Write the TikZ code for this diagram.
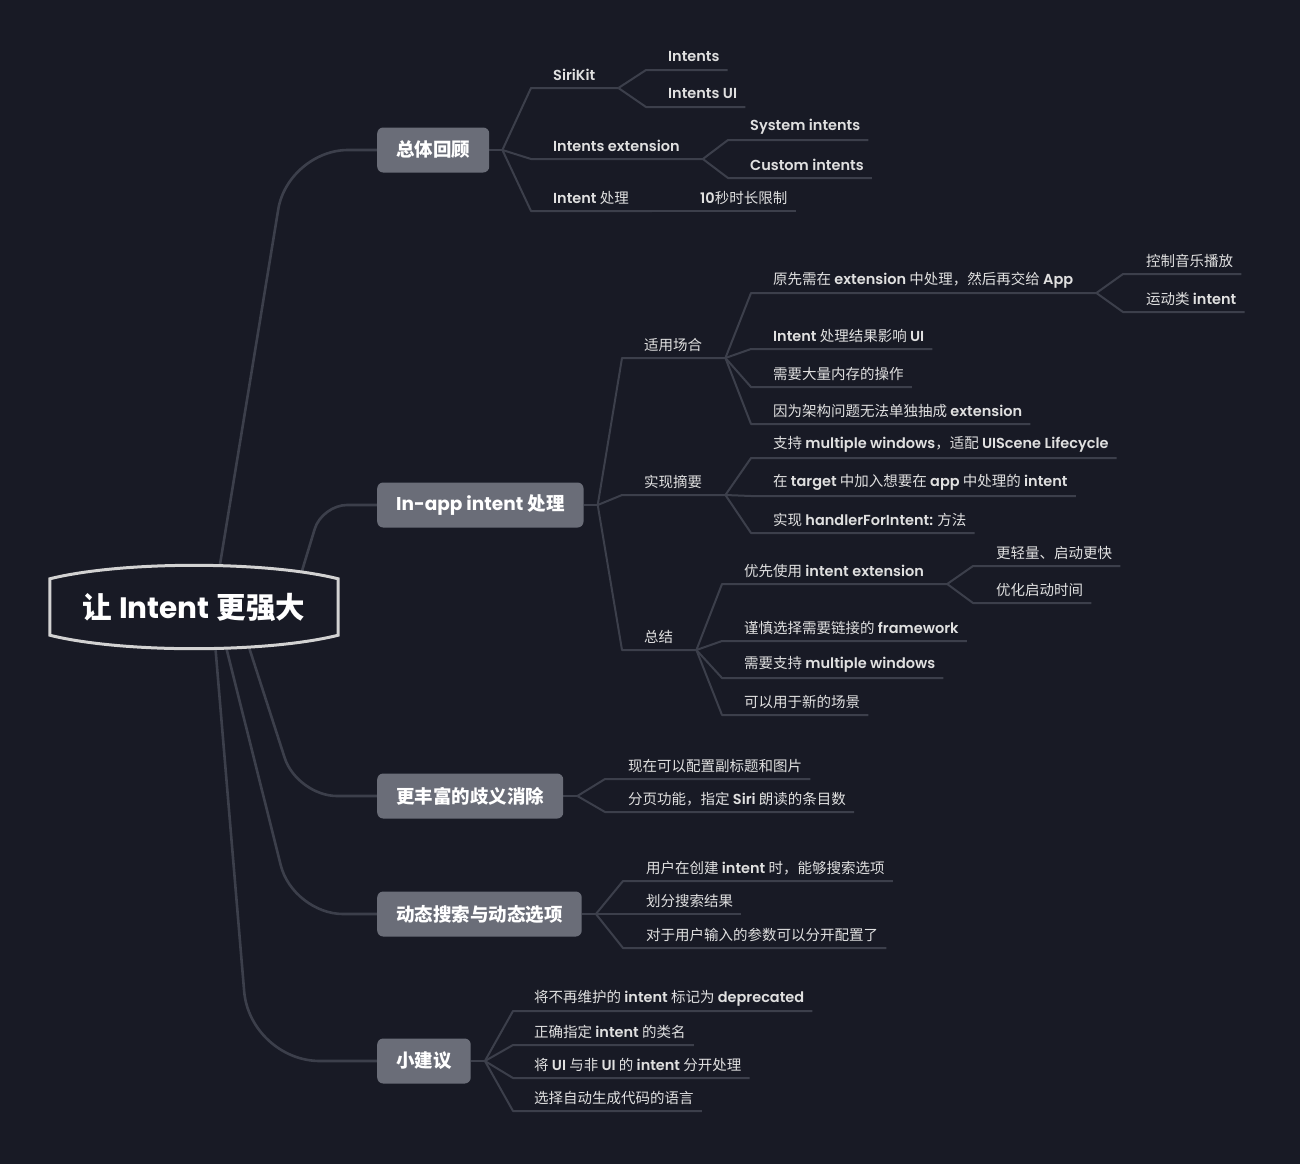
\documentclass[tikz,border=0pt]{standalone}
\usepackage{fontspec}
\setmainfont{Noto Sans CJK SC}
\newfontfamily\latfont{Poppins SemiBold}[BoldFont={Poppins Bold}]
\newcommand{\eng}[1]{{\latfont #1}}
\usepackage{tikz}
\definecolor{mapBack}{HTML}{181A25}
\definecolor{mapLine}{HTML}{3C3F4B}
\definecolor{mapBox}{HTML}{6A6D78}
\definecolor{mapText}{HTML}{E0E0E0}
\definecolor{mapRim}{HTML}{D2D2D2}
\tikzstyle{rootTopic} = [rectangle, minimum width=288pt, minimum height=56pt, text=white, font=\fontsize{29.5}{33}\selectfont\bfseries]
\tikzstyle{mainTopic} = [rectangle, rounded corners=6pt, fill=mapBox, text=white, anchor=west, minimum height=45pt, inner xsep=19pt, font=\fontsize{18.5}{22}\selectfont\bfseries]
\tikzstyle{subTopic} = [rectangle, anchor=south west, minimum height=26pt, inner xsep=8pt, inner ysep=0pt, text=mapText, font=\fontsize{14.5}{17}\selectfont]
\tikzstyle{branch} = [draw=mapLine, line width=2pt, line join=round]
\tikzstyle{trunk} = [draw=mapLine, line width=2.6pt]
\tikzstyle{rootRim} = [draw=mapRim, line width=3pt, fill=mapBack]
\pgfdeclarelayer{lines}
\pgfsetlayers{lines,main}

\begin{document}
\begin{tikzpicture}[x=1pt, y=-1pt]

\useasboundingbox (0,0) rectangle (1300,1164);

\node (root) [rootTopic] at (194,607) {让 \eng{Intent} 更强大};

\node (review) [mainTopic] at (377,150) {总体回顾};
\node (inapp) [mainTopic] at (377,505) {\eng{In-app intent} 处理};
\node (disamb) [mainTopic] at (377,796) {更丰富的歧义消除};
\node (dynamic) [mainTopic] at (377,914) {动态搜索与动态选项};
\node (tips) [mainTopic] at (377,1061) {小建议};

% 总体回顾
\node (sirikit) [subTopic] at (545,88) {\eng{SiriKit}};
\node (intents) [subTopic] at (660,70) {\eng{Intents}};
\node (intentsui) [subTopic] at (660,107) {\eng{Intents UI}};
\node (intentsext) [subTopic] at (545,159) {\eng{Intents extension}};
\node (sysint) [subTopic] at (742,140) {\eng{System intents}};
\node (custint) [subTopic] at (742,178) {\eng{Custom intents}};
\node (handling) [subTopic] at (545,211) {\eng{Intent} 处理};
\node (tensec) [subTopic] at (692,211) {\eng{10}秒时长限制};

% In-app intent 处理
\node (scene) [subTopic] at (636,358) {适用场合};
\node (orig) [subTopic] at (765,293) {原先需在 \eng{extension} 中处理，然后再交给 \eng{App}};
\node (music) [subTopic] at (1138,274) {控制音乐播放};
\node (sport) [subTopic] at (1138,312) {运动类 \eng{intent}};
\node (uiaffect) [subTopic] at (765,349) {\eng{Intent} 处理结果影响 \eng{UI}};
\node (memory) [subTopic] at (765,387) {需要大量内存的操作};
\node (arch) [subTopic] at (765,424) {因为架构问题无法单独抽成 \eng{extension}};
\node (impl) [subTopic] at (636,495) {实现摘要};
\node (multiwin) [subTopic] at (765,458) {支持 \eng{multiple windows}，适配 \eng{UIScene Lifecycle}};
\node (target) [subTopic] at (765,496) {在 \eng{target} 中加入想要在 \eng{app} 中处理的 \eng{intent}};
\node (handler) [subTopic] at (765,533) {实现 \eng{handlerForIntent:} 方法};
\node (summary) [subTopic] at (636,650) {总结};
\node (preferext) [subTopic] at (736,584) {优先使用 \eng{intent extension}};
\node (lighter) [subTopic] at (988,566) {更轻量、启动更快};
\node (launch) [subTopic] at (988,603) {优化启动时间};
\node (framework) [subTopic] at (736,641) {谨慎选择需要链接的 \eng{framework}};
\node (needmulti) [subTopic] at (736,678) {需要支持 \eng{multiple windows}};
\node (newscene) [subTopic] at (736,715) {可以用于新的场景};

% 更丰富的歧义消除
\node (subtitle) [subTopic] at (620,779) {现在可以配置副标题和图片};
\node (paging) [subTopic] at (620,812) {分页功能，指定 \eng{Siri} 朗读的条目数};

% 动态搜索与动态选项
\node (searchopt) [subTopic] at (638,881) {用户在创建 \eng{intent} 时，能够搜索选项};
\node (partition) [subTopic] at (638,914) {划分搜索结果};
\node (params) [subTopic] at (638,948) {对于用户输入的参数可以分开配置了};

% 小建议
\node (deprecate) [subTopic] at (526,1011) {将不再维护的 \eng{intent} 标记为 \eng{deprecated}};
\node (classname) [subTopic] at (526,1045) {正确指定 \eng{intent} 的类名};
\node (uisplit) [subTopic] at (526,1078) {将 \eng{UI} 与非 \eng{UI} 的 \eng{intent} 分开处理};
\node (language) [subTopic] at (526,1111) {选择自动生成代码的语言};

\coordinate (reviewF) at ([xshift=13pt]review.east);
\coordinate (inappF) at ([xshift=14pt]inapp.east);
\coordinate (disambF) at ([xshift=14pt]disamb.east);
\coordinate (dynamicF) at ([xshift=14pt]dynamic.east);
\coordinate (tipsF) at ([xshift=14pt]tips.east);
\coordinate (sirikitF) at ([xshift=15pt]sirikit.south east);
\coordinate (intentsextF) at ([xshift=15pt]intentsext.south east);
\coordinate (handlingF) at ([xshift=15pt]handling.south east);
\coordinate (sceneF) at ([xshift=15pt]scene.south east);
\coordinate (origF) at ([xshift=15pt]orig.south east);
\coordinate (implF) at ([xshift=15pt]impl.south east);
\coordinate (summaryF) at ([xshift=15pt]summary.south east);
\coordinate (preferextF) at ([xshift=15pt]preferext.south east);

\begin{pgfonlayer}{lines}
\fill [mapBack] (0,0) rectangle (1300,1164);

\draw [trunk, rounded corners=60pt] ([xshift=19pt]root.center) -- (288,150) -- (review.west);
\draw [trunk, rounded corners=25pt] ([xshift=97pt]root.center) -- (322,505) -- (inapp.west);
\draw [trunk, rounded corners=40pt] ([xshift=42pt]root.center) -- (297,796) -- (disamb.west);
\draw [trunk, rounded corners=50pt] ([xshift=22pt]root.center) -- (293,914) -- (dynamic.west);
\draw [trunk, rounded corners=70pt] ([xshift=18pt]root.center) -- (250,1061) -- (tips.west);

\draw [branch] (review.east) -- (reviewF);
\draw [branch] (reviewF) -- ([xshift=-14pt]sirikit.south west) -- (sirikitF);
\draw [branch] (reviewF) -- ([xshift=-14pt]intentsext.south west) -- (intentsextF);
\draw [branch] (reviewF) -- ([xshift=-14pt]handling.south west) -- (handlingF);
\draw [branch] (sirikitF) -- ([xshift=-14pt]intents.south west) -- (intents.south east);
\draw [branch] (sirikitF) -- ([xshift=-14pt]intentsui.south west) -- (intentsui.south east);
\draw [branch] (intentsextF) -- ([xshift=-14pt]sysint.south west) -- (sysint.south east);
\draw [branch] (intentsextF) -- ([xshift=-14pt]custint.south west) -- (custint.south east);
\draw [branch] (handlingF) -- ([xshift=-14pt]tensec.south west) -- (tensec.south east);

\draw [branch] (inapp.east) -- (inappF);
\draw [branch] (inappF) -- ([xshift=-14pt]scene.south west) -- (sceneF);
\draw [branch] (inappF) -- ([xshift=-14pt]impl.south west) -- (implF);
\draw [branch] (inappF) -- ([xshift=-14pt]summary.south west) -- (summaryF);
\draw [branch] (sceneF) -- ([xshift=-14pt]orig.south west) -- (origF);
\draw [branch] (origF) -- ([xshift=-15pt]music.south west) -- (music.south east);
\draw [branch] (origF) -- ([xshift=-15pt]sport.south west) -- (sport.south east);
\draw [branch] (sceneF) -- ([xshift=-14pt]uiaffect.south west) -- (uiaffect.south east);
\draw [branch] (sceneF) -- ([xshift=-14pt]memory.south west) -- (memory.south east);
\draw [branch] (sceneF) -- ([xshift=-14pt]arch.south west) -- (arch.south east);
\draw [branch] (implF) -- ([xshift=-14pt]multiwin.south west) -- (multiwin.south east);
\draw [branch] (implF) -- ([xshift=-14pt]target.south west) -- (target.south east);
\draw [branch] (implF) -- ([xshift=-14pt]handler.south west) -- (handler.south east);
\draw [branch] (summaryF) -- ([xshift=-14pt]preferext.south west) -- (preferextF);
\draw [branch] (preferextF) -- ([xshift=-15pt]lighter.south west) -- (lighter.south east);
\draw [branch] (preferextF) -- ([xshift=-15pt]launch.south west) -- (launch.south east);
\draw [branch] (summaryF) -- ([xshift=-14pt]framework.south west) -- (framework.south east);
\draw [branch] (summaryF) -- ([xshift=-14pt]needmulti.south west) -- (needmulti.south east);
\draw [branch] (summaryF) -- ([xshift=-14pt]newscene.south west) -- (newscene.south east);

\draw [branch] (disamb.east) -- (disambF);
\draw [branch] (disambF) -- ([xshift=-15pt]subtitle.south west) -- (subtitle.south east);
\draw [branch] (disambF) -- ([xshift=-15pt]paging.south west) -- (paging.south east);

\draw [branch] (dynamic.east) -- (dynamicF);
\draw [branch] (dynamicF) -- ([xshift=-15pt]searchopt.south west) -- (searchopt.south east);
\draw [branch] (dynamicF) -- ([xshift=-15pt]partition.south west) -- (partition.south east);
\draw [branch] (dynamicF) -- ([xshift=-15pt]params.south west) -- (params.south east);

\draw [branch] (tips.east) -- (tipsF);
\draw [branch] (tipsF) -- ([xshift=-13pt]deprecate.south west) -- (deprecate.south east);
\draw [branch] (tipsF) -- ([xshift=-13pt]classname.south west) -- (classname.south east);
\draw [branch] (tipsF) -- ([xshift=-13pt]uisplit.south west) -- (uisplit.south east);
\draw [branch] (tipsF) -- ([xshift=-13pt]language.south west) -- (language.south east);

\draw [rootRim] (root.north west) .. controls ([xshift=72pt,yshift=18pt]root.north west) and ([xshift=-72pt,yshift=18pt]root.north east) .. (root.north east) -- (root.south east) .. controls ([xshift=-72pt,yshift=-18pt]root.south east) and ([xshift=72pt,yshift=-18pt]root.south west) .. (root.south west) -- cycle;
\end{pgfonlayer}

\end{tikzpicture}
\end{document}
